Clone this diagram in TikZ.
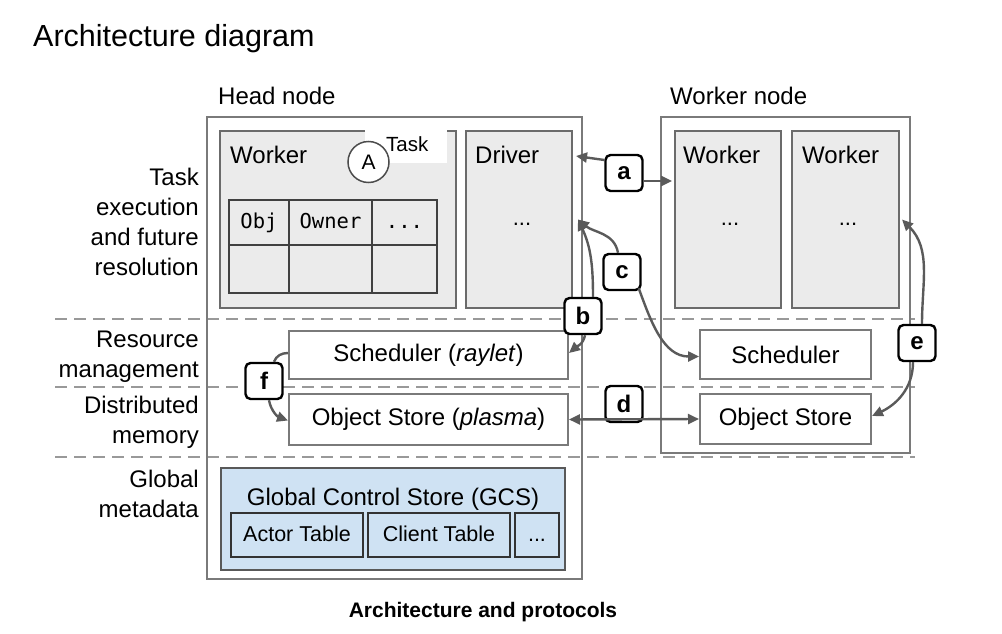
\documentclass[tikz,border=0pt]{standalone}
\usepackage{fontspec}
\setmainfont{Liberation Sans}
\setmonofont{DejaVu Sans Mono}
\usetikzlibrary{arrows.meta}
\definecolor{boxgray}{HTML}{EBEBEB}
\definecolor{edgegray}{HTML}{7A7A7A}
\definecolor{arrgray}{HTML}{5A5A5A}
\definecolor{gcsblue}{HTML}{CFE2F3}
\begin{document}
\begin{tikzpicture}[x=1pt,y=-1pt,
    txt/.style={font=\fontsize{24}{30}\selectfont, inner sep=0pt},
    frame/.style={draw=edgegray, line width=2pt, inner sep=0pt},
    grey/.style={frame, draw=black!58, fill=boxgray},
    plain/.style={frame, fill=white, font=\fontsize{24}{30}\selectfont},
    cell/.style={draw=black!75, line width=1.2pt, inner sep=0pt, text height=15pt, text depth=4pt, font=\ttfamily\fontsize{20.5}{20}\selectfont},
    tab/.style={draw=black!80, line width=2pt, fill=gcsblue, inner sep=0pt, minimum height=44pt, text height=16pt, text depth=4pt, font=\fontsize{21.5}{26}\selectfont},
    tag/.style={draw=black, line width=2.4pt, rounded corners=5pt, fill=white, minimum width=37pt, minimum height=36pt, inner sep=0pt, font=\fontsize{24}{24}\selectfont\bfseries},
    conn/.style={draw=arrgray, line width=2.4pt},
    arr/.style={conn, -{Triangle[length=11pt,width=10pt]}},
    arr2/.style={conn, {Triangle[length=11pt,width=10pt]}-{Triangle[length=11pt,width=10pt]}},
    sep/.style={draw=black!40, line width=2pt, dash pattern=on 12pt off 7pt}]
\useasboundingbox (0,0) rectangle (1002,634);

\foreach \y in {319,387,457}
    \draw[sep] (55,\y) -- (915,\y);

\node[txt, font=\fontsize{30.5}{30}\selectfont, anchor=base west] (title) at (33,47) {Architecture diagram};
\node[txt, anchor=base west] (hn) at (218,105) {Head node};
\node[txt, anchor=base west] (wn) at (670,105) {Worker node};

\node[txt, align=right, anchor=east] (l1) at (199,222) {Task\\execution\\and future\\resolution};
\node[txt, align=right, anchor=east] (l2) at (199,357) {Resource\\management};
\node[txt, align=right, anchor=east] (l3) at (199,422) {Distributed\\memory};
\node[txt, align=right, anchor=east] (l4) at (199,494) {Global\\metadata};

\node[frame, minimum width=375pt, minimum height=462pt] (head) at (394.5,348) {};
\node[frame, minimum width=249pt, minimum height=336pt] (wnode) at (785.5,285) {};

\node[grey, minimum width=236pt, minimum height=177pt] (hw) at (338,219.5) {};
\node[grey, minimum width=106pt, minimum height=177pt] (drv) at (519,219.5) {};
\node[grey, minimum width=106pt, minimum height=177pt] (ww1) at (728,219.5) {};
\node[grey, minimum width=107pt, minimum height=177pt] (ww2) at (845.5,219.5) {};

\node[txt, anchor=base west] (hwl) at (230,163) {Worker};
\node[txt, anchor=base west] (drvl) at (475,163) {Driver};
\node[txt, anchor=base west] (ww1l) at (683,163) {Worker};
\node[txt, anchor=base west] (ww2l) at (802,163) {Worker};
\node[txt, font=\fontsize{22}{22}\selectfont, anchor=base] (drvd) at (522,225) {...};
\node[txt, font=\fontsize{22}{22}\selectfont, anchor=base] (ww1d) at (730,225) {...};
\node[txt, font=\fontsize{22}{22}\selectfont, anchor=base] (ww2d) at (848,225) {...};

\fill[white] (365,130) rectangle (447,163);
\node[txt, font=\fontsize{20.5}{20}\selectfont, anchor=base west] (task) at (386,151) {Task};
\node[circle, draw=black!70, line width=1.5pt, fill=white, minimum size=41pt, inner sep=0pt, font=\fontsize{21}{21}\selectfont] (A) at (368.5,162) {A};

\node[cell, minimum width=60pt, minimum height=45pt] (c11) at (259,222.5) {Obj};
\node[cell, minimum width=83pt, minimum height=45pt] (c12) at (330.5,222.5) {Owner};
\node[cell, minimum width=65pt, minimum height=45pt] (c13) at (404.5,222.5) {...};
\node[cell, minimum width=60pt, minimum height=48pt] (c21) at (259,269) {};
\node[cell, minimum width=83pt, minimum height=48pt] (c22) at (330.5,269) {};
\node[cell, minimum width=65pt, minimum height=48pt] (c23) at (404.5,269) {};

\node[plain, minimum width=279pt, minimum height=48pt] (s1) at (428.5,355) {Scheduler (\textit{raylet})};
\node[plain, minimum width=279pt, minimum height=51pt] (o1) at (428.5,419.5) {Object Store (\textit{plasma})};
\node[plain, minimum width=171pt, minimum height=49pt] (s2) at (785.5,354.5) {Scheduler};
\node[plain, minimum width=171pt, minimum height=50pt] (o2) at (785.5,419) {Object Store};

\node[frame, draw=black!65, fill=gcsblue, minimum width=344pt, minimum height=102pt] (gcs) at (393,519) {};
\node[txt, anchor=base] (gcsl) at (393,505) {Global Control Store (GCS)};
\node[tab, minimum width=132pt] (act) at (297,535) {Actor Table};
\node[tab, minimum width=142pt] (cli) at (439,535) {Client Table};
\node[tab, minimum width=44pt] (etc) at (537,535) {...};

\node[tag] (la) at (624,173) {a};
\node[tag] (lb) at (583,316) {b};
\node[tag] (lc) at (622,272) {c};
\node[tag] (ld) at (624,404) {d};
\node[tag] (le) at (917,343) {e};
\node[tag] (lf) at (264,381) {f};

\draw[arr] ([yshift=13pt]la.west) -- ([xshift=3pt,yshift=-26pt]drv.north east);
\draw[arr] ([yshift=-8pt]la.east) -- ([xshift=-2pt,yshift=-51pt]ww1.north west);
\draw[arr] ([xshift=10pt]lb.north) to[out=90,in=-65] ([xshift=5pt]drv.east);
\draw[arr] ([xshift=2pt]lb.south) to[out=-100,in=40] ([yshift=2pt]s1.east);
\draw[arr] ([xshift=-4pt]lc.north) to[out=100,in=-40] ([xshift=5pt]drv.east);
\draw[arr] ([xshift=-3pt,yshift=3pt]lc.south east) to[out=-70,in=180] ([yshift=-2pt]s2.west);
\draw[arr2] (o1.east) -- (o2.west);
\draw[arr] ([xshift=5pt]le.north) to[out=90,in=-45] ([xshift=2pt]ww2.east);
\draw[arr] ([xshift=-4pt]le.south) to[out=-90,in=25] ([yshift=3pt]o2.east);
\draw[conn] ([yshift=2pt]s1.west) to[out=180,in=70] ([xshift=10pt]lf.north);
\draw[arr] ([xshift=5pt]lf.south) to[out=-80,in=160] ([yshift=-1pt]o1.west);

\node[txt, font=\fontsize{21}{21}\selectfont\bfseries, anchor=base] (cap) at (483,617) {Architecture and protocols};
\end{tikzpicture}
\end{document}
